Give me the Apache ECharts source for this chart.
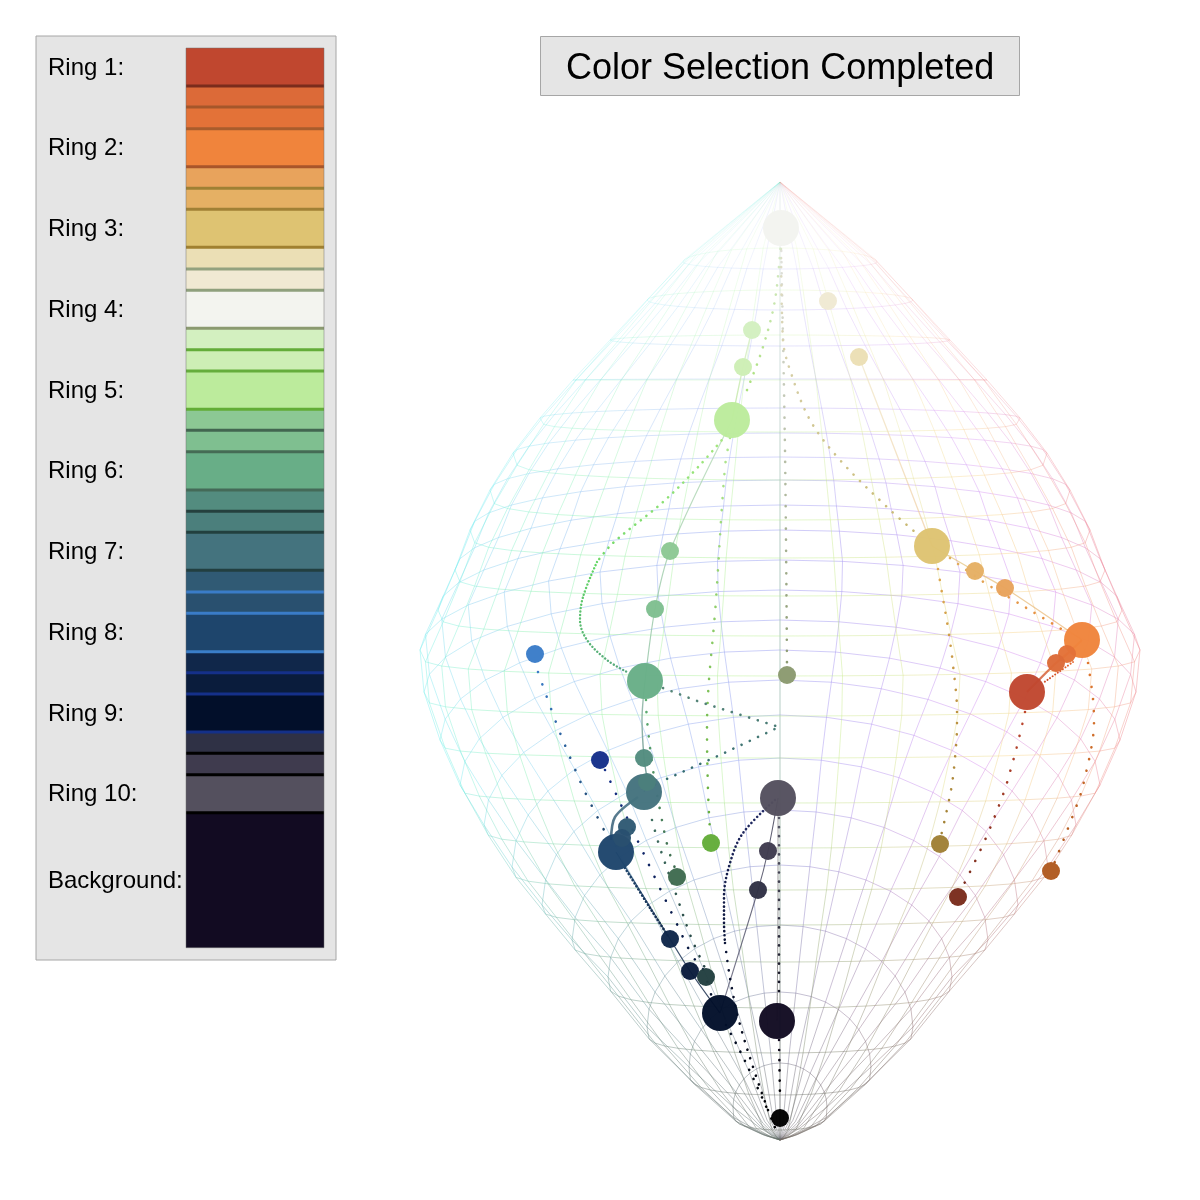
<!DOCTYPE html>
<html><head><meta charset="utf-8">
<style>html,body{margin:0;padding:0;background:#fff}#c{width:1200px;height:1200px}</style>
<script src="https://cdn.jsdelivr.net/npm/echarts@6/dist/echarts.min.js"></script>
</head><body><div id="c"></div>
<script>
// ---- legend ----
const ringLabels = ['Ring 1:','Ring 2:','Ring 3:','Ring 4:','Ring 5:','Ring 6:','Ring 7:','Ring 8:','Ring 9:','Ring 10:','Background:'];
const ringLabelY = [68,148,229,310,391,471,552,633,714,794,881];
const swatchEdges = [48,86,107,128.7,166.7,188.3,209.3,247.3,269,290.3,328.3,349.7,371,409.3,430.3,451.7,490,511.3,532.3,570.3,592,613.3,651.7,672.7,694,732,753.3,774.7,812.7,947.7];
const swatchFill = ['#c0472f','#dc6a38','#e37238','#f0843c','#e8a35c','#e5b064','#dec372','#ebdfb5','#f0e9d3','#f3f4ef','#d3f0c0','#cdeeb5','#bceb9c','#8cc894','#7fbf90','#68ae87','#538c7f','#4b7f7c','#44737e','#305a74','#29506f','#1e456c','#10274a','#0a1c3c','#020f2a','#2f3145','#3f3b4e','#54505e','#120b22'];
const swatchStripe = ['#7a2c1c','#a5562a','#a85c2c','#a8552a','#9e8034','#a08035','#a08030','#93a27f','#8fa07d','#8b9a70','#63ac39','#65ad3b','#62ad35','#426650','#456b55','#446a58','#25403e','#22403f','#223f40','#3a7cc8','#3a7cc8','#3a7ec9','#15308a','#15308a','#143088','#000000','#000000','#000000'];
// ---- colour-space mesh (read from the wireframe: one entry per latitude ring) ----
const poleTopY = 182, poleBottomY = 1140, axisX = 780;
const ringSideY  = [262,300,340,380,418,453,490,530,570,610,650,692,740,785,825,867,905,940,977,1027,1067,1107,1128];
const ringRadius = [97,133,170,207,240,267,290,310,325,342,360,356,340,320,296,268,238,208,172,133,91,47,20];
const ringBackY  = [269,310,346,379,408,433,457,480,505,530,560,590,620,650,680,715,758,810,865,925,992,1063,1118];
const ringFrontY = [248,290,335,380,432,480,520,558,596,636,676,716,758,803,848,890,925,962,1008,1053,1095,1130,1137];
const meridianCount = 36;
const hueAnchors = ['#f08890','#d488f0','#8c8cf0','#88c4f0','#78f0f0','#88f0b0','#b8f088','#f8d488'];
// ---- colour nodes ----
const baseNodes = [[1027,692,'#c0472f'],[1082,640,'#f0843c'],[932,546,'#dec372'],[781,228,'#f3f4ef'],[732,420,'#bceb9c'],[645,681,'#68ae87'],[644,792,'#44737e'],[616,852,'#1e456c'],[720,1013,'#020f2a'],[778,798,'#54505e'],[777,1021,'#120b22']];
const smallNodes = [[828,301,'#f0e9d3'],[859,357,'#ebdfb5'],[752,330,'#d3f0c0'],[743,367,'#cdeeb5'],[975,571,'#e5b064'],[1005,588,'#e8a35c'],[1067,654,'#e37238'],[1056,663,'#dc6a38'],[670,551,'#8cc894'],[655,609,'#7fbf90'],[644,758,'#538c7f'],[647,782,'#4b7f7c'],[627,827,'#305a74'],[622,838,'#29506f'],[670,939,'#10274a'],[690,971,'#0a1c3c'],[768,851,'#3f3b4e'],[758,890,'#2f3145'],
 [535,654,'#3a7cc8'],[600,760,'#15308a'],[711,843,'#63ac39'],[787,675,'#8b9a70'],[940,844,'#a08035'],[958,897,'#7a2c1c'],[1051,871,'#b05a20'],[677,877,'#3f6b50'],[706,977,'#223f40'],[780,1118,'#000000']];
// ---- solid ring chains: waypoints ----
const chainA = [[859,357],[895,450],[932,546]];
const chainB = [[932,546],[975,571],[1005,588],[1082,640]];
const chainC = [[1082,640],[1067,654],[1056,663],[1027,692]];
const chainD = [[752,330],[743,367],[732,420]];
const chainE = [[732,420],[670,551],[655,609],[645,681]];
const chainF = [[645,681],[642,720],[644,758],[647,782],[644,792]];
const chainG = [[638,797],[615,817],[611,840]];
const chainH = [[616,852],[670,939],[690,971],[720,1013]];
const chainI = [[720,1013],[758,890],[768,851],[778,798]];
const chainJ = [[778,798],[778,900],[777,1021]];
// ---- dotted paths: waypoints ----
const dotsA = [[781,240],[785,450],[787,665]];
const dotsB = [[781,240],[783,340],[790,370],[810,420],[840,460],[888,508],[915,532]];
const dotsC = [[781,240],[775,300],[762,350],[745,395]];
const dotsD1 = [[726,435],[700,465],[663,502],[613,543],[597,562]];
const dotsD2 = [[597,562],[583,597],[580,620],[587,640],[607,660],[627,672]];
const dotsE = [[730,438],[725,467],[716,600],[707,728],[708,790],[710,832]];
const dotsF = [[663,688],[700,702],[779,727],[720,755],[660,782]];
const dotsG = [[646,700],[647,720],[653,770],[660,810],[668,848],[675,868]];
const dotsH = [[652,820],[660,848],[677,897],[691,937],[706,970]];
const dotsI = [[538,672],[557,725],[572,762],[585,792],[605,832]];
const dotsJ = [[605,770],[635,835],[657,882],[675,920],[693,957],[702,967],[712,998]];
const dotsK = [[625,868],[650,908],[668,936]];
const dotsL = [[775,800],[743,833],[730,863],[724,897],[724,923],[725,943]];
const dotsL2 = [[725,943],[730,978],[739,1021],[756,1076],[768,1110],[776,1130]];
const dotsM = [[726,1025],[740,1051],[754,1080],[769,1113]];
const dotsN = [[779,818],[779,955],[779,1000]];
const dotsO = [[779,1040],[780,1097]];
const dotsP = [[938,569],[942,593],[948,628],[953,665],[957,712],[957,724],[955,758],[951,790],[941,836]];
const dotsQ = [[950,558],[982,581],[1010,598],[1043,618],[1063,630]];
const dotsR = [[1088,663],[1093,699],[1094,722],[1092,744],[1085,777],[1079,799],[1054,864]];
const dotsS = [[1025,712],[1018,742],[1010,772],[1004,792],[985,840],[962,888]];
const dotsT = [[1073,662],[1043,683]];

function hex(c){return [1,3,5].map(i=>parseInt(c.substr(i,2),16));}
function mix(a,b,t){return a.map((v,i)=>v+(b[i]-v)*t);}
function hueColor(deg){
  const n=hueAnchors.length, p=((deg%360+360)%360)/360*n, i=Math.floor(p)%n;
  return mix(hex(hueAnchors[i]),hex(hueAnchors[(i+1)%n]),p-Math.floor(p));
}
function meshPoint(ri,deg){
  if(ri<0) return [axisX,poleTopY];
  if(ri>=ringRadius.length) return [axisX,poleBottomY];
  const a=deg*Math.PI/180, s=Math.sin(a), side=ringSideY[ri];
  const edge=s>0?ringBackY[ri]:ringFrontY[ri];
  const shape=(s<0&&edge>side)?Math.pow(Math.abs(s),0.45):Math.abs(s);
  return [axisX+ringRadius[ri]*Math.cos(a), side+(edge-side)*shape];
}
function meshStyle(y,deg){
  const t=(y-poleTopY)/(poleBottomY-poleTopY);
  const gray=Math.max(0,Math.min(1,(t-0.62)/0.33));
  const c=mix(hueColor(deg),[95,95,95],gray*0.88);
  const al=Math.min(0.92,0.16+t*2.1);
  return {color:`rgba(${c.map(Math.round).join(',')},${al.toFixed(2)})`,width:0.95};
}
const meshData=[];
for(let m=0;m<meridianCount;m++){
  const deg=m*360/meridianCount, next=(m+1)*360/meridianCount;
  for(let r=-1;r<ringRadius.length;r++){
    const p=meshPoint(r,deg), q=meshPoint(r+1,deg);
    meshData.push({coords:[p,q],lineStyle:meshStyle((p[1]+q[1])/2,deg)});
  }
  for(let r=0;r<ringRadius.length-1;r++){
    const p=meshPoint(r,deg), q=meshPoint(r,next);
    meshData.push({coords:[p,q],lineStyle:meshStyle((p[1]+q[1])/2,deg+5)});
  }
}
function grad(from,to,pts){
  const down=pts[pts.length-1][1]>=pts[0][1];
  return {type:'linear',x:0,y:down?0:1,x2:0,y2:down?1:0,colorStops:[{offset:0,color:from},{offset:1,color:to}]};
}
function solid(pts,from,to,w,op){
  return {type:'line',data:pts,smooth:0.3,symbol:'none',z:2,silent:true,clip:false,
    lineStyle:{color:grad(from,to,pts),width:w,opacity:op||0.8}};
}
function dotted(pts,from,to,gap,w,sm){
  return {type:'line',data:pts,smooth:sm===undefined?0.35:sm,symbol:'none',z:2,silent:true,clip:false,
    lineStyle:{color:grad(from,to,pts),width:w||2.6,type:[0.1,gap||11],cap:'round'}};
}
const chart=echarts.init(document.getElementById('c'),null,{renderer:'canvas'});
chart.setOption({
  animation:false,backgroundColor:'#ffffff',
  title:{text:'Color Selection Completed',left:540,top:36,backgroundColor:'#e5e5e5',borderColor:'#a6a6a6',borderWidth:1,
    padding:[15,26,9,26],textStyle:{fontFamily:'Liberation Sans',fontSize:36,fontWeight:'normal',color:'#000',lineHeight:36}},
  grid:{left:0,top:0,width:1200,height:1200},
  xAxis:{type:'value',min:0,max:1200,show:false},
  yAxis:{type:'value',min:0,max:1200,inverse:true,show:false},
  graphic:[
    {type:'rect',z:-1,shape:{x:36,y:36,width:300,height:924},style:{fill:'#e5e5e5',stroke:'#a6a6a6',lineWidth:1}},
    {type:'rect',z:20,silent:true,shape:{x:186,y:48,width:138,height:899.7},style:{fill:'none',stroke:'rgba(110,110,110,0.6)',lineWidth:0.8}}
  ],
  series:[
    {type:'lines',coordinateSystem:'cartesian2d',polyline:true,z:1,silent:true,data:meshData,lineStyle:{width:0.95}},
    solid(chainA,'#f0e8c8','#efc898',1.3,0.7),
    solid(chainB,'#e0c478','#ecb070',1.3,0.7),
    solid(chainC,'#e87838','#c84828',2.4),
    solid(chainD,'#dcf0cc','#b8e498',1.3),
    solid(chainE,'#b8dcb8','#8cc0a0',1.2),
    solid(chainF,'#90b8a4','#4b7f7c',1.4),
    solid(chainG,'#33647a','#264c68',2.6),
    solid(chainH,'#1e456c','#0a1c3c',1.3),
    solid(chainI,'#606078','#303048',1.1),
    solid(chainJ,'#909090','#707070',1),
    dotted(dotsA,'#e4e4e0','#8b9a70',11),
    dotted(dotsB,'#e0e0d0','#c8b870',9),
    dotted(dotsC,'#dcead0','#a8e078',9),
    dotted(dotsD1,'#a8e880','#70d868',7),
    dotted(dotsD2,'#60d860','#58a880',3.4,2.4),
    dotted(dotsE,'#b0e890','#63ac39',12),
    dotted(dotsF,'#5a8878','#2f6870',9,2.6,0),
    dotted(dotsG,'#5cb070','#3f6b50',12),
    dotted(dotsH,'#3f7060','#223f40',11),
    dotted(dotsI,'#3a7cc8','#1e456c',13),
    dotted(dotsJ,'#15308a','#020f2a',13),
    dotted(dotsK,'#1e456c','#10274a',3.5),
    dotted(dotsL,'#242c68','#0a1438',4),
    dotted(dotsL2,'#0a1438','#000000',9),
    dotted(dotsM,'#020f2a','#000000',10),
    dotted(dotsN,'#585868','#101020',9),
    dotted(dotsO,'#120b22','#000000',10),
    dotted(dotsP,'#e0a850','#a08035',11),
    dotted(dotsQ,'#e0b060','#e88838',10),
    dotted(dotsR,'#e07830','#b05a20',12),
    dotted(dotsS,'#c0472f','#7a2c1c',12),
    dotted(dotsT,'#e86830','#c84828',3,2),
    {type:'scatter',z:3,silent:true,symbolSize:36,data:baseNodes.map(n=>({value:[n[0],n[1]],itemStyle:{color:n[2],opacity:0.97}}))},
    {type:'scatter',z:4,silent:true,symbolSize:18,data:smallNodes.map(n=>({value:[n[0],n[1]],itemStyle:{color:n[2],opacity:0.97}}))},
    {type:'custom',z:5,silent:true,clip:false,data:swatchFill.map((c,i)=>[swatchEdges[i],swatchEdges[i+1]]),
      renderItem(p,api){
        const a=api.coord([186,api.value(0)]), b=api.coord([324,api.value(1)]);
        return {type:'rect',shape:{x:a[0],y:a[1],width:b[0]-a[0],height:b[1]-a[1]},style:{fill:swatchFill[p.dataIndex]}};
      }},
    {type:'custom',z:6,silent:true,clip:false,data:swatchStripe.map((c,i)=>[swatchEdges[i+1]]),
      renderItem(p,api){
        const a=api.coord([186,api.value(0)]), b=api.coord([324,api.value(0)]);
        return {type:'rect',shape:{x:a[0],y:a[1]-1.5,width:b[0]-a[0],height:3},style:{fill:swatchStripe[p.dataIndex]}};
      }},
    {type:'custom',z:7,silent:true,clip:false,data:ringLabels.map((t,i)=>[48,ringLabelY[i]]),
      renderItem(p,api){
        const c=api.coord([api.value(0),api.value(1)]);
        return {type:'text',x:c[0],y:c[1],style:{text:ringLabels[p.dataIndex],fill:'#000',font:'24px "Liberation Sans"',verticalAlign:'middle',align:'left'}};
      }}
  ]
});
</script></body></html>
